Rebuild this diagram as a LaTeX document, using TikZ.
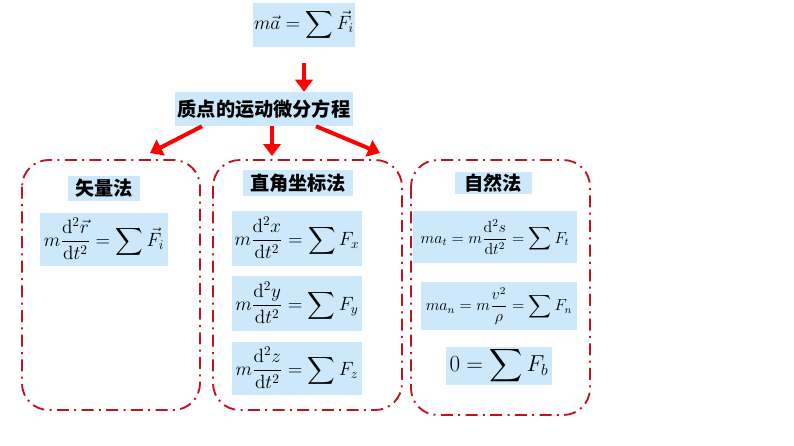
\documentclass[tikz,border=0pt]{standalone}
\usepackage{fontspec}
\usepackage{amsmath}
\newfontfamily\cjk{Noto Sans CJK SC}
\usetikzlibrary{arrows.meta}
\definecolor{boxblue}{RGB}{204,232,250}
\definecolor{framered}{RGB}{190,20,30}
\tikzset{
  eqbox/.style={fill=boxblue, inner sep=0pt, font=\Large},
  titlebox/.style={fill=boxblue, inner sep=0pt, font=\cjk\bfseries\large},
  methodframe/.style={draw=framered, line width=1.4pt, dash pattern=on 9pt off 4pt on 1.5pt off 4pt, rounded corners=20pt},
  redarrow/.style={draw=red, line width=3pt, -{Triangle[length=9pt,width=13pt]}}
}
\begin{document}
\begin{tikzpicture}[x=0.75pt, y=-0.75pt]
\useasboundingbox (0,0) rectangle (794,446);

% top equation and title
\node[eqbox, minimum width=102*0.75pt, minimum height=44*0.75pt] (top) at (304,25) {$m\vec{a}=\displaystyle\sum\vec{F}_i$};
\node[titlebox, font=\cjk\bfseries\Large, minimum width=178*0.75pt, minimum height=34*0.75pt] (title) at (264,109) {质点的运动微分方程};
\draw[redarrow] (top.south) ++(0,16) coordinate (t1) -- (t1 |- title.north);

% three frames
\draw[methodframe] (22,160) rectangle (200,410);
\draw[methodframe] (213,160) rectangle (402,410);
\draw[methodframe] (411,160) rectangle (590,415);

\coordinate (lefttip) at (150,153);
\coordinate (midtip) at (272,156);
\coordinate (righttip) at (380,153);
\draw[redarrow] ([xshift=-62pt*0.75]title.south) -- (lefttip);
\draw[redarrow] ([xshift=8pt*0.75]title.south) -- (midtip);
\draw[redarrow] ([xshift=52pt*0.75]title.south) -- (righttip);

% vector method
\node[titlebox, font=\cjk\bfseries\Large, minimum width=72*0.75pt, minimum height=25*0.75pt] (vec) at (104,188) {矢量法};
\node[eqbox, minimum width=128*0.75pt, minimum height=53*0.75pt] (veq) at (104,239) {$m\dfrac{\mathrm{d}^2\vec{r}}{\mathrm{d}t^2}=\displaystyle\sum\vec{F}_i$};

% rectangular coordinates
\node[titlebox, font=\cjk\bfseries\Large, minimum width=110*0.75pt, minimum height=26*0.75pt] (rect) at (298,183) {直角坐标法};
\node[eqbox, minimum width=130*0.75pt, minimum height=55*0.75pt] (ex) at (297,238) {$m\dfrac{\mathrm{d}^2x}{\mathrm{d}t^2}=\displaystyle\sum F_x$};
\node[eqbox, minimum width=130*0.75pt, minimum height=55*0.75pt] (ey) at (297,303) {$m\dfrac{\mathrm{d}^2y}{\mathrm{d}t^2}=\displaystyle\sum F_y$};
\node[eqbox, minimum width=130*0.75pt, minimum height=53*0.75pt] (ez) at (297,368) {$m\dfrac{\mathrm{d}^2z}{\mathrm{d}t^2}=\displaystyle\sum F_z$};

% natural method
\node[titlebox, font=\cjk\bfseries\Large, minimum width=77*0.75pt, minimum height=22*0.75pt] (nat) at (493,183) {自然法};
\node[eqbox, font=\large, minimum width=164*0.75pt, minimum height=52*0.75pt] (et) at (495,237) {$ma_t=m\dfrac{\mathrm{d}^2s}{\mathrm{d}t^2}=\displaystyle\sum F_t$};
\node[eqbox, font=\large, minimum width=156*0.75pt, minimum height=48*0.75pt] (en) at (499,306) {$ma_n=m\dfrac{v^2}{\rho}=\displaystyle\sum F_n$};
\node[eqbox, font=\LARGE, minimum width=106*0.75pt, minimum height=38*0.75pt] (eb) at (499,366) {$0=\displaystyle\sum F_b$};
\end{tikzpicture}
\end{document}
